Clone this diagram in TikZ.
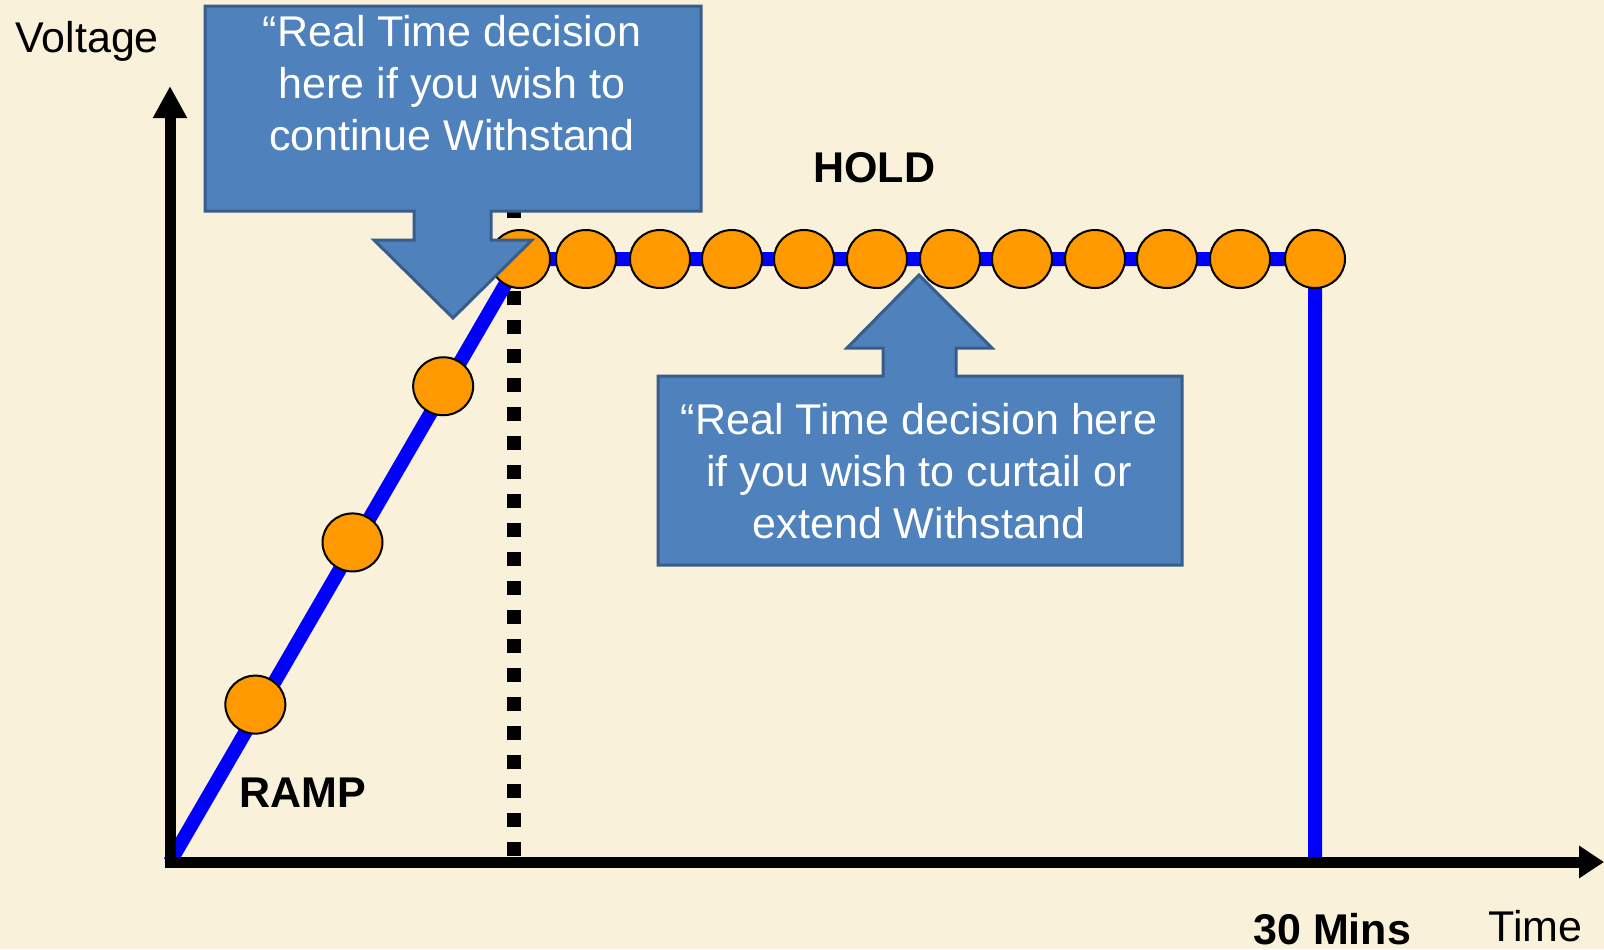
\documentclass[tikz,border=0pt]{standalone}
\usepackage{fontspec}
\setmainfont{Liberation Sans}
\usetikzlibrary{shapes.geometric,arrows.meta}
\definecolor{parch}{RGB}{250,241,218}
\definecolor{calfill}{HTML}{4F81BD}
\definecolor{caledge}{HTML}{385D8A}
\definecolor{dotorange}{HTML}{FF9900}
\definecolor{curveblue}{HTML}{0000FF}
\tikzset{
  dotnode/.style={ellipse, draw=black, line width=1pt, fill=dotorange, minimum width=30pt, minimum height=29pt, inner sep=0pt},
  curve/.style={draw=curveblue, line width=7pt, line join=miter},
  axisline/.style={line width=5.5pt, draw=black},
  guide/.style={draw=black, line width=7pt, dash pattern=on 7pt off 7.5pt},
  callout/.style={fill=calfill, draw=caledge, line width=1.5pt, line join=miter},
  calltext/.style={text=white, align=center, font=\fontsize{21.5pt}{26pt}\selectfont, inner sep=0pt, anchor=base},
  axlabel/.style={font=\fontsize{21.5pt}{26pt}\selectfont, inner sep=0pt, anchor=base west},
  boldlabel/.style={font=\fontsize{21.5pt}{26pt}\selectfont\bfseries, inner sep=0pt, anchor=base west},
}
\begin{document}
\begin{tikzpicture}[x=0.5pt,y=-0.5pt]
  \fill[parch] (0,0) rectangle (1604,949);
  \useasboundingbox (0,0) rectangle (1604,949);

  % key coordinates
  \coordinate (O) at (170,862);
  \coordinate (Ox) at (164.5,862);
  \coordinate (ytip) at (170,86);
  \coordinate (xtip) at (1604,862);
  \coordinate (dtop) at (514,204);
  \coordinate (dbot) at (514,856);

  % dotted guide
  \draw[guide] (dbot) -- (dtop);

  % hold circles
  \foreach \i/\x in {1/520,2/586,3/660,4/732,5/804,6/877,7/950,8/1022,9/1095,10/1167,11/1240,12/1315}
    \coordinate (hc\i) at (\x,259);

  % blue voltage curve
  \draw[curve] (O) -- (hc1) -- (hc12) -- (hc12 |- O);

  % ramp circles
  \path (O) -- (hc1)
    node[dotnode, pos=0.261, xshift=-3pt] (r1) {}
    node[dotnode, pos=0.530, xshift=-1.5pt] (r2) {}
    node[dotnode, pos=0.789, xshift=-1.5pt] (r3) {};
  \foreach \i in {1,...,12}
    \node[dotnode] (h\i) at (hc\i) {};

  % axes
  \draw[axisline, -{Triangle[length=16pt,width=16pt]}] (O) -- (ytip);
  \draw[axisline, -{Triangle[length=12.5pt,width=15.5pt]}] (Ox) -- (xtip);

  % callouts
  \draw[callout] (205,6) -- (701,6) -- (701,211) -- (491,211) -- (491,240) -- (532,240)
     -- (453,318) -- (374,240) -- (414,240) -- (414,211) -- (205,211) -- cycle;
  \draw[callout] (658,376) -- (883,376) -- (883,348) -- (847,348) -- (919,275)
     -- (992,348) -- (956,348) -- (956,376) -- (1182,376) -- (1182,565) -- (658,565) -- cycle;

  \node[calltext] (c1text) at (452,150) {“Real Time decision\\here if you wish to\\continue Withstand};
  \node[calltext] (c2text) at (919,538) {“Real Time decision here\\if you wish to curtail or\\extend Withstand};

  % labels
  \node[axlabel] (vlab) at (15,52) {Voltage};
  \node[boldlabel] (hold) at (813,182) {HOLD};
  \node[boldlabel] (ramp) at (239,807) {RAMP};
  \node[boldlabel] (mins) at (1253,944) {30 Mins};
  \node[axlabel] (tlab) at (1488,941) {Time};
\end{tikzpicture}
\end{document}
